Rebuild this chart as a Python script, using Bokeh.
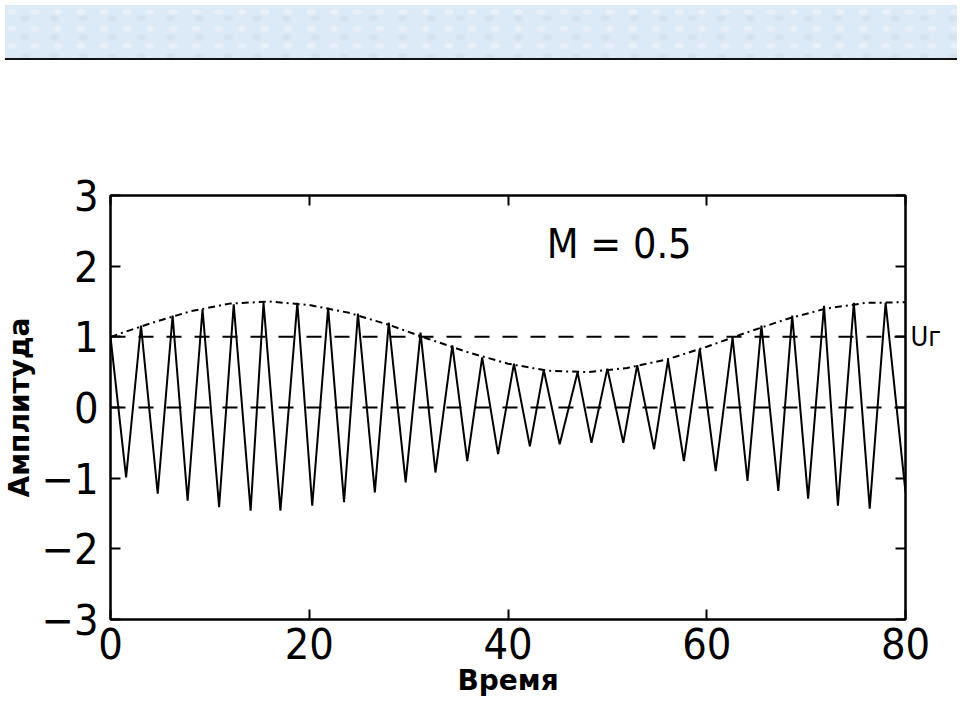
from bokeh.plotting import figure
from bokeh.models import Range1d, FixedTicker, LinearAxis, Label, Div
from bokeh.layouts import column
from bokeh.embed import file_html
from bokeh.resources import INLINE

# ---- data ----
x_ticks = [0, 20, 40, 60, 80]
y_ticks = [-3, -2, -1, 0, 1, 2, 3]
y_tick_labels = {-3: "\u22123", -2: "\u22122", -1: "\u22121", 0: "0", 1: "1", 2: "2", 3: "3"}

# modulated signal: successive peaks / troughs
wave_x = [0, 1.57, 3.07, 4.75, 6.25, 7.76, 9.26, 10.93, 12.4, 14.1, 15.4, 17.1,
          18.8, 20.3, 21.9, 23.5, 24.9, 26.6, 28.0, 29.7, 31.2, 32.7, 34.4, 35.9,
          37.4, 39.0, 40.6, 42.2, 43.6, 45.2, 47.0, 48.4, 50.0, 51.6, 53.0, 54.7,
          56.1, 57.7, 59.3, 60.9, 62.6, 64.1, 65.5, 67.2, 68.6, 70.2, 71.8, 73.2,
          74.8, 76.4, 78.0, 80.0]
wave_y = [1.0, -0.99, 1.16, -1.22, 1.30, -1.32, 1.39, -1.41, 1.46, -1.46, 1.48, -1.46,
          1.48, -1.39, 1.41, -1.34, 1.33, -1.20, 1.20, -1.06, 1.06, -0.92, 0.88, -0.76,
          0.71, -0.66, 0.62, -0.55, 0.53, -0.52, 0.50, -0.50, 0.55, -0.50, 0.60, -0.59,
          0.67, -0.76, 0.83, -0.90, 0.99, -1.04, 1.16, -1.18, 1.30, -1.29, 1.44, -1.39,
          1.48, -1.43, 1.48, -1.20]

# upper envelope (dash-dot)
env_x = [0, 4, 8, 12, 16, 20, 24, 28, 32, 36, 40, 44, 48, 52, 56, 60, 64, 68, 72, 76, 80]
env_y = [1.0, 1.19, 1.36, 1.47, 1.50, 1.45, 1.34, 1.17, 0.97, 0.78, 0.62, 0.52,
         0.50, 0.56, 0.68, 0.86, 1.06, 1.25, 1.40, 1.48, 1.49]

# dashed reference levels
ref_levels = [0, 1]
ref_span = [0, 80]
ref_label = {1: "U\u0433"}

annotation_text = "M = 0.5"
x_title = "\u0412\u0440\u0435\u043c\u044f"
y_title = "\u0410\u043c\u043f\u043b\u0438\u0442\u0443\u0434\u0430"

NUM_FONT = "DejaVu Sans Condensed, Liberation Sans"
LBL_FONT = "DejaVu Sans"

p = figure(width=952, height=642, x_range=Range1d(0, 80), y_range=Range1d(-3, 3),
           output_backend="svg", toolbar_location=None,
           min_border_left=104, min_border_right=47, min_border_top=130,
           min_border_bottom=88)
p.grid.visible = False
p.outline_line_color = "black"
p.outline_line_width = 2
p.background_fill_color = "white"
p.border_fill_color = "white"

def style_axis(ax, ticks):
    ax.ticker = FixedTicker(ticks=ticks)
    ax.major_tick_in = 10
    ax.major_tick_out = 0
    ax.minor_tick_line_color = None
    ax.axis_line_color = "black"
    ax.axis_line_width = 2
    ax.major_tick_line_color = "black"
    ax.major_tick_line_width = 2
    ax.major_label_text_font = NUM_FONT
    ax.major_label_text_font_size = "43px"
    ax.major_label_text_color = "black"

style_axis(p.xaxis[0], x_ticks)
style_axis(p.yaxis[0], y_ticks)
p.yaxis[0].major_label_overrides = y_tick_labels
p.xaxis[0].major_label_standoff = 8
p.yaxis[0].major_label_standoff = 12

p.xaxis[0].axis_label = x_title
p.yaxis[0].axis_label = y_title
for ax in (p.xaxis[0], p.yaxis[0]):
    ax.axis_label_text_font = LBL_FONT
    ax.axis_label_text_font_size = "28px"
    ax.axis_label_text_font_style = "bold"
    ax.axis_label_text_color = "black"
p.xaxis[0].axis_label_standoff = 2
p.yaxis[0].axis_label_standoff = 2

top_ax = LinearAxis()
style_axis(top_ax, x_ticks)
top_ax.major_label_text_color = None
top_ax.major_label_text_font_size = "1px"
p.add_layout(top_ax, "above")

right_ax = LinearAxis()
style_axis(right_ax, y_ticks)
right_ax.major_label_overrides = {t: ref_label.get(t, "") for t in y_ticks}
right_ax.major_label_text_font = NUM_FONT
right_ax.major_label_text_font_size = "27px"
right_ax.major_label_standoff = 5
p.add_layout(right_ax, "right")

# dashed levels
for lvl in ref_levels:
    p.line(ref_span, [lvl, lvl], line_color="black", line_width=2, line_dash="15 13")

# envelope
p.line(env_x, env_y, line_color="black", line_width=2, line_dash="7 4 2 4")

# signal
p.line(wave_x, wave_y, line_color="black", line_width=2)

p.add_layout(Label(x=43.9, y=2.31, text=annotation_text, text_font=NUM_FONT,
                   text_font_size="41px", text_color="black",
                   text_baseline="alphabetic", text_align="left"))

header = Div(text="", width=952, height=55,
             styles={"background-color": "#dce9f6",
                     "background-image": "radial-gradient(ellipse at 30% 40%, rgba(255,255,255,0.35) 0 3px, transparent 6px), radial-gradient(ellipse at 70% 70%, rgba(195,212,232,0.35) 0 3px, transparent 6px)",
                     "background-size": "23px 17px, 29px 19px",
                     "border-bottom": "2px solid #111",
                     "box-sizing": "border-box"})

layout = column(header, p, spacing=0)
open("out.html", "w").write(file_html(layout, INLINE))
